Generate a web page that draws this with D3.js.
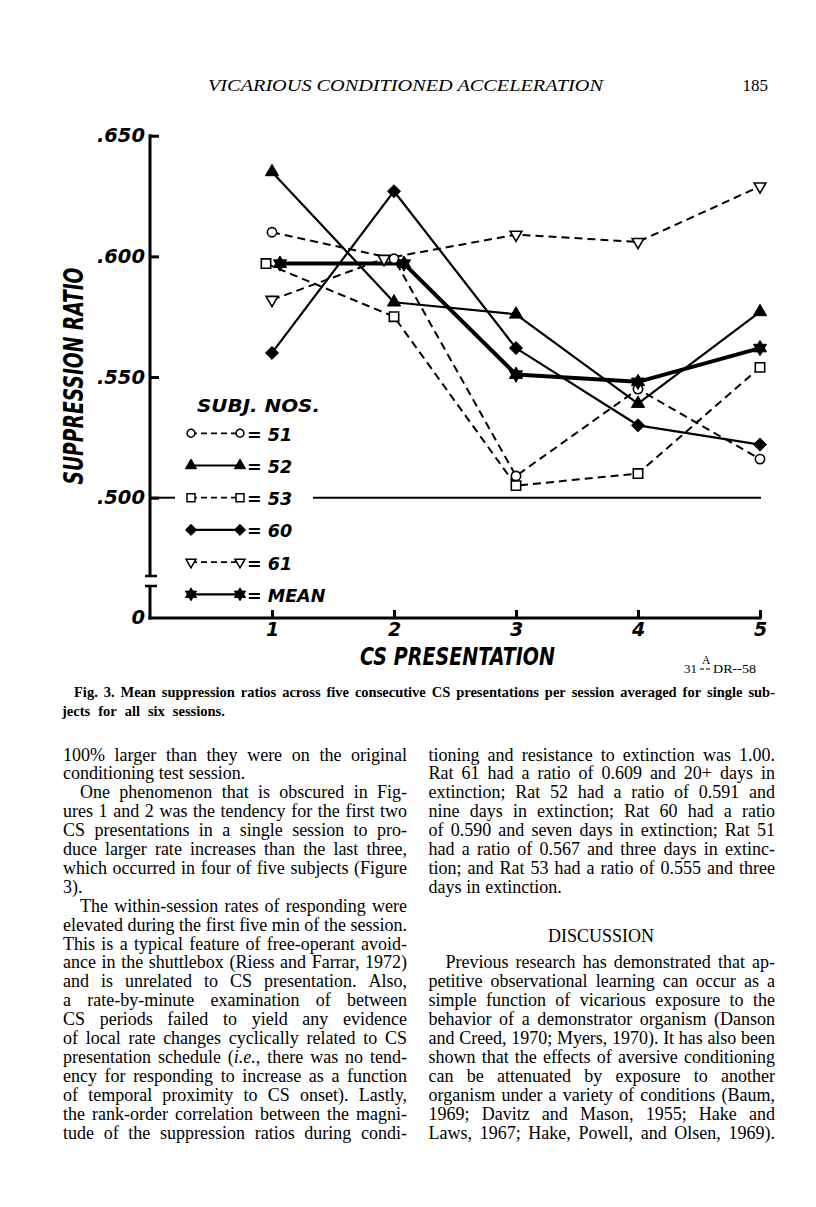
<!DOCTYPE html>
<html>
<head>
<meta charset="utf-8">
<script src="https://cdn.jsdelivr.net/npm/d3@7"></script>
<style>
  body { margin: 0; background: #fff; }
</style>
</head>
<body>
<script>
// ---- data ----
var presentations = [1, 2, 3, 4, 5];
var subj51 = [0.610, 0.599, 0.509, 0.545, 0.516];
var subj52 = [0.635, 0.581, 0.576, 0.539, 0.577];
var subj53 = [0.597, 0.575, 0.505, 0.510, 0.554];
var subj60 = [0.560, 0.627, 0.562, 0.530, 0.522];
var subj61 = [0.582, 0.599, 0.609, 0.606, 0.629];
var meanRatio = [0.597, 0.597, 0.551, 0.548, 0.562];
var yTicks = [0.650, 0.600, 0.550, 0.500];
var yTickLabels = [".650", ".600", ".550", ".500"];
var refValue = 0.500;
var subjectNames = ["51", "52", "53", "60", "61", "MEAN"];

var width = 816, height = 1207;
var chartFont = "'DejaVu Sans', sans-serif";
var serif = "'Liberation Serif', 'Times New Roman', serif";

// custom marker shapes
var symbolHexagram = {
  draw: function(ctx, size) {
    var r = Math.sqrt(size) / 2;
    [-90, 90].forEach(function(a0) {
      for (var k = 0; k < 3; k++) {
        var a = (a0 + k * 120) * Math.PI / 180;
        var px = r * Math.cos(a), py = r * Math.sin(a);
        if (k === 0) ctx.moveTo(px, py); else ctx.lineTo(px, py);
      }
      ctx.closePath();
    });
  }
};
var symbolRhomb = {
  draw: function(ctx, size) {
    var h = Math.sqrt(size) / 2;
    ctx.moveTo(0, -h); ctx.lineTo(h, 0); ctx.lineTo(0, h); ctx.lineTo(-h, 0); ctx.closePath();
  }
};

var series = [
  {name: subjectNames[0], values: subj51, type: d3.symbolCircle, size: 68, filled: false, dashed: true},
  {name: subjectNames[1], values: subj52, type: d3.symbolTriangle, size: 75, filled: true, dashed: false},
  {name: subjectNames[2], values: subj53, type: d3.symbolSquare, size: 88, filled: false, dashed: true},
  {name: subjectNames[3], values: subj60, type: symbolRhomb, size: 170, filled: true, dashed: false},
  {name: subjectNames[4], values: subj61, type: d3.symbolTriangle, size: 60, filled: false, dashed: true, flip: true},
  {name: subjectNames[5], values: meanRatio, type: symbolHexagram, size: 230, filled: true, dashed: false, mean: true}
];
// small horizontal shifts the draughtsman used to keep markers apart (px)
var nudge = {"53": [-6, 0, 0, 0, 0], "61": [0, -10, 0, 0, 0], "MEAN": [8, 10, 0, 0, 0]};

var svg = d3.select("body").append("svg")
    .attr("width", width).attr("height", height)
    .attr("viewBox", [0, 0, width, height]);
svg.append("rect").attr("width", width).attr("height", height).attr("fill", "#fff");

var x = d3.scaleLinear().domain([1, 5]).range([272, 760]);
var y = d3.scaleLinear().domain([0.5, 0.65]).range([497.7, 135.7]);
var axisX0 = 150, zeroY = 618;

// ---- header ----
svg.append("text").attr("x", 208).attr("y", 91)
    .attr("font-family", serif).attr("font-style", "italic").attr("font-size", 17)
    .attr("textLength", 395).attr("lengthAdjust", "spacingAndGlyphs")
    .text("VICARIOUS CONDITIONED ACCELERATION");
svg.append("text").attr("x", 768).attr("y", 91).attr("text-anchor", "end")
    .attr("font-family", serif).attr("font-size", 17).text("185");

// ---- y axis ----
var gy = svg.append("g")
    .attr("transform", `translate(${axisX0},0)`)
    .call(d3.axisLeft(y).tickValues(yTicks).tickSize(-9).tickPadding(5)
      .tickFormat(d => yTickLabels[yTicks.indexOf(d)]));
gy.select(".domain").remove();
gy.selectAll(".tick line").attr("stroke", "#000").attr("stroke-width", 3);
gy.selectAll(".tick text").attr("fill", "#000");
gy.attr("font-family", chartFont).attr("font-size", 19.5)
  .attr("font-weight", "bold").attr("font-style", "italic");

svg.append("line").attr("x1", axisX0).attr("x2", axisX0)
    .attr("y1", y(0.65) - 1.5).attr("y2", 576)
    .attr("stroke", "#000").attr("stroke-width", 3);
// axis break
[576, 586].forEach(function(by) {
  svg.append("line").attr("x1", axisX0 - 5).attr("x2", axisX0 + 7)
      .attr("y1", by).attr("y2", by).attr("stroke", "#000").attr("stroke-width", 2.5);
});
svg.append("line").attr("x1", axisX0).attr("x2", axisX0)
    .attr("y1", 586).attr("y2", zeroY + 1.5)
    .attr("stroke", "#000").attr("stroke-width", 3);
svg.append("text").attr("x", axisX0 - 5).attr("y", zeroY + 6).attr("text-anchor", "end")
    .attr("font-family", chartFont).attr("font-size", 19.5)
    .attr("font-weight", "bold").attr("font-style", "italic").text("0");

// ---- x axis ----
var gx = svg.append("g")
    .attr("transform", `translate(0,${zeroY})`)
    .call(d3.axisBottom(x).tickValues(presentations).tickSize(-8).tickPadding(5)
      .tickFormat(d3.format("d")));
gx.select(".domain").remove();
gx.selectAll(".tick line").attr("stroke", "#000").attr("stroke-width", 3);
gx.selectAll(".tick text").attr("fill", "#000");
gx.attr("font-family", chartFont).attr("font-size", 19)
  .attr("font-weight", "bold").attr("font-style", "italic");
svg.append("line").attr("x1", axisX0 - 1.5).attr("x2", x(5) + 1.5)
    .attr("y1", zeroY).attr("y2", zeroY)
    .attr("stroke", "#000").attr("stroke-width", 3);

svg.append("text")
    .attr("transform", "translate(83,376) rotate(-90)")
    .attr("x", -108.5)
    .attr("font-family", chartFont).attr("font-size", 26)
    .attr("font-weight", "bold").attr("font-style", "italic")
    .attr("textLength", 217).attr("lengthAdjust", "spacingAndGlyphs")
    .text("SUPPRESSION RATIO");
svg.append("text").attr("x", 360).attr("y", 665)
    .attr("font-family", chartFont).attr("font-size", 24)
    .attr("font-weight", "bold").attr("font-style", "italic")
    .attr("textLength", 195).attr("lengthAdjust", "spacingAndGlyphs")
    .text("CS PRESENTATION");

// drawing code "31 A/-- DR--58"
svg.append("text").attr("x", 684).attr("y", 673).attr("font-family", serif).attr("font-size", 13).text("31");
svg.append("line").attr("x1", 700).attr("x2", 712).attr("y1", 669).attr("y2", 669)
    .attr("stroke", "#000").attr("stroke-width", 1).attr("stroke-dasharray", "4,2");
svg.append("text").attr("x", 702).attr("y", 664).attr("font-family", serif).attr("font-size", 11.5).text("A");
svg.append("text").attr("x", 713).attr("y", 673).attr("font-family", serif).attr("font-size", 13)
    .attr("textLength", 43).attr("lengthAdjust", "spacingAndGlyphs").text("DR--58");

// ---- .500 reference line (broken by legend) ----
[[axisX0, 175], [313, x(5) + 1]].forEach(function(seg) {
  svg.append("line").attr("x1", seg[0]).attr("x2", seg[1])
      .attr("y1", y(refValue)).attr("y2", y(refValue))
      .attr("stroke", "#000").attr("stroke-width", 2);
});

// ---- series ----
function px(s, i) { return x(presentations[i]) + (nudge[s.name] ? nudge[s.name][i] : 0); }
var line = d3.line().x(d => d[0]).y(d => d[1]);

series.forEach(function(s) {
  var pts = s.values.map((v, i) => [px(s, i), y(v)]);
  svg.append("path")
      .datum(pts)
      .attr("fill", "none")
      .attr("stroke", "#000")
      .attr("stroke-width", s.mean ? 4 : (s.dashed ? 2 : 2.2))
      .attr("stroke-dasharray", s.dashed ? "8,5" : null)
      .attr("stroke-linejoin", "round")
      .attr("d", line);
});
series.forEach(function(s) {
  svg.append("g").selectAll("path")
    .data(s.values)
    .join("path")
      .attr("transform", (v, i) => `translate(${px(s, i)},${y(v)})` + (s.flip ? " rotate(180)" : ""))
      .attr("d", d3.symbol().type(s.type).size(s.size))
      .attr("fill", s.filled ? "#000" : "#fff")
      .attr("stroke", "#000")
      .attr("stroke-width", s.filled ? 1 : 1.6);
});

// ---- legend ----
svg.append("text").attr("x", 197).attr("y", 412)
    .attr("font-family", chartFont).attr("font-size", 18.5)
    .attr("font-weight", "bold").attr("font-style", "italic")
    .attr("textLength", 123).attr("lengthAdjust", "spacingAndGlyphs")
    .text("SUBJ. NOS.");
var legend = svg.append("g").selectAll("g")
  .data(series)
  .join("g")
    .attr("transform", (s, i) => `translate(0,${433.3 + i * 32.2})`);
legend.append("line")
    .attr("x1", 191).attr("x2", 240)
    .attr("stroke", "#000")
    .attr("stroke-width", s => s.dashed ? 1.8 : 2.2)
    .attr("stroke-dasharray", s => s.dashed ? "6,4" : null);
[191, 240].forEach(function(lx) {
  legend.append("path")
      .attr("transform", s => `translate(${lx},0)` + (s.flip ? " rotate(180)" : ""))
      .attr("d", s => d3.symbol().type(s.type).size(s.size * 0.72)())
      .attr("fill", s => s.filled ? "#000" : "#fff")
      .attr("stroke", "#000")
      .attr("stroke-width", s => s.filled ? 1 : 1.5);
});
legend.append("text")
    .attr("x", 247).attr("y", 7.5)
    .attr("font-family", chartFont).attr("font-size", 17.5)
    .attr("font-weight", "bold").attr("font-style", "italic")
    .text(s => "= " + s.name);

// ---- caption ----
var captionLines = [
  {text: "Fig. 3. Mean suppression ratios across five consecutive CS presentations per session averaged for single sub-", x: 74, w: 701, justify: true},
  {text: "jects for all six sessions.", x: 62, w: 203, gap: 0.55}
];

// ---- body text ----
var leftLines = [
  {text: "100% larger than they were on the original", justify: true},
  {text: "conditioning test session."},
  {text: "One phenomenon that is obscured in Fig-", justify: true, indent: true},
  {text: "ures 1 and 2 was the tendency for the first two", justify: true},
  {text: "CS presentations in a single session to pro-", justify: true},
  {text: "duce larger rate increases than the last three,", justify: true},
  {text: "which occurred in four of five subjects (Figure", justify: true},
  {text: "3)."},
  {text: "The within-session rates of responding were", justify: true, indent: true},
  {text: "elevated during the first five min of the session.", justify: true},
  {text: "This is a typical feature of free-operant avoid-", justify: true},
  {text: "ance in the shuttlebox (Riess and Farrar, 1972)", justify: true},
  {text: "and is unrelated to CS presentation. Also,", justify: true},
  {text: "a rate-by-minute examination of between", justify: true},
  {text: "CS periods failed to yield any evidence", justify: true},
  {text: "of local rate changes cyclically related to CS", justify: true},
  {text: "presentation schedule (*i.e.*, there was no tend-", justify: true},
  {text: "ency for responding to increase as a function", justify: true},
  {text: "of temporal proximity to CS onset). Lastly,", justify: true},
  {text: "the rank-order correlation between the magni-", justify: true},
  {text: "tude of the suppression ratios during condi-", justify: true}
];
var rightLines = [
  {text: "tioning and resistance to extinction was 1.00.", justify: true},
  {text: "Rat 61 had a ratio of 0.609 and 20+ days in", justify: true},
  {text: "extinction; Rat 52 had a ratio of 0.591 and", justify: true},
  {text: "nine days in extinction; Rat 60 had a ratio", justify: true},
  {text: "of 0.590 and seven days in extinction; Rat 51", justify: true},
  {text: "had a ratio of 0.567 and three days in extinc-", justify: true},
  {text: "tion; and Rat 53 had a ratio of 0.555 and three", justify: true},
  {text: "days in extinction."},
  null, null, null,
  {text: "Previous research has demonstrated that ap-", justify: true, indent: true},
  {text: "petitive observational learning can occur as a", justify: true},
  {text: "simple function of vicarious exposure to the", justify: true},
  {text: "behavior of a demonstrator organism (Danson", justify: true},
  {text: "and Creed, 1970; Myers, 1970). It has also been", justify: true},
  {text: "shown that the effects of aversive conditioning", justify: true},
  {text: "can be attenuated by exposure to another", justify: true},
  {text: "organism under a variety of conditions (Baum,", justify: true},
  {text: "1969; Davitz and Mason, 1955; Hake and", justify: true},
  {text: "Laws, 1967; Hake, Powell, and Olsen, 1969).", justify: true}
];

function setLine(g, ln, x0, w, baseline, fontSize, weight) {
  var indent = ln.indent ? 17 : 0;
  var words = ln.text.split(" ");
  var nodes = words.map(function(wd) {
    var t = g.append("text").attr("y", baseline)
        .attr("font-family", serif).attr("font-size", fontSize)
        .attr("font-weight", weight || null);
    wd.split("*").forEach(function(seg, k) {
      if (seg) t.append("tspan").attr("font-style", k % 2 ? "italic" : null).text(seg);
    });
    return t;
  });
  var widths = nodes.map(n => n.node().getComputedTextLength());
  var gap = (ln.justify && words.length > 1)
      ? (w - indent - d3.sum(widths)) / (words.length - 1)
      : fontSize * (ln.gap || 0.27);
  var cx = x0 + indent;
  nodes.forEach(function(n, i) { n.attr("x", cx); cx += widths[i] + gap; });
}

var cap = svg.append("g");
captionLines.forEach(function(ln, i) {
  setLine(cap, ln, ln.x, ln.w, 697 + i * 19, 14.5, "bold");
});

var body = svg.append("g");
var lineStep = 18.9, bodyTop = 760.5;
leftLines.forEach(function(ln, i) { setLine(body, ln, 63, 344, bodyTop + i * lineStep, 18); });
rightLines.forEach(function(ln, i) { if (ln) setLine(body, ln, 428.5, 346.5, bodyTop + i * lineStep, 18); });
body.append("text").attr("x", 601).attr("y", 941.5).attr("text-anchor", "middle")
    .attr("font-family", serif).attr("font-size", 18).text("DISCUSSION");
</script>
</body>
</html>
